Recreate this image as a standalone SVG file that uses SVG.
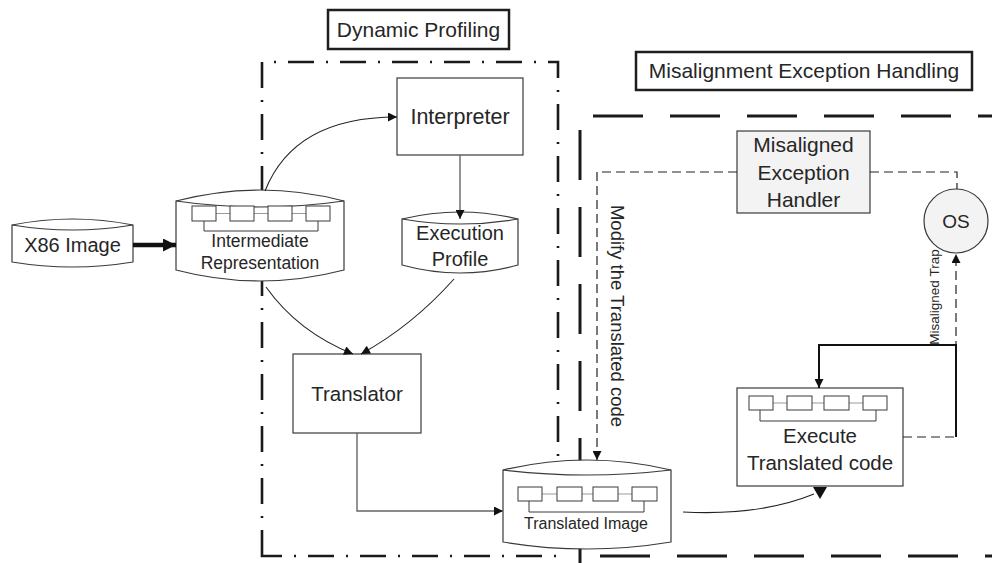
<svg xmlns="http://www.w3.org/2000/svg" width="992" height="563" viewBox="0 0 992 563">
  <style>
    text { font-family: "Liberation Sans", Arial, sans-serif; fill: #262626; }
    .mid { text-anchor: middle; }
    .node { fill: #ffffff; stroke: #3a3a3a; stroke-width: 1.2; }
    .grey { fill: #f3f3f3; stroke: #3a3a3a; stroke-width: 1.2; }
    .lens { fill: none; stroke: #3a3a3a; stroke-width: 1.2; }
    .cell { fill: #ffffff; stroke: #3a3a3a; stroke-width: 1; }
    .link { fill: none; stroke: #9a9a9a; stroke-width: 1; }
    .brk { fill: none; stroke: #3a3a3a; stroke-width: 1; }
    .conn { fill: none; stroke: #222; stroke-width: 1.1; }
    .grayconn { fill: none; stroke: #666; stroke-width: 1.4; }
    .dash { fill: none; stroke: #222; stroke-width: 1.2; stroke-dasharray: 9 5; }
    .thick { fill: none; stroke: #111; stroke-width: 2; }
    .heavy { fill: none; stroke: #111; stroke-width: 4.5; }
    .frame-dp { fill: none; stroke: #1a1a1a; stroke-width: 2.6; stroke-dasharray: 26 12 2 12; }
    .frame-mh { fill: none; stroke: #1a1a1a; stroke-width: 3; stroke-dasharray: 50 27; }
    .label { fill: #ffffff; stroke: #1e1e1e; stroke-width: 2.5; }
  </style>
  <defs>
    <marker id="ah" viewBox="0 0 10 10" refX="10" refY="5" markerWidth="10" markerHeight="9" markerUnits="userSpaceOnUse" orient="auto">
      <path d="M0,0 L10,5 L0,10 Z" fill="#111"/>
    </marker>
    <marker id="ahBig" viewBox="0 0 10 10" refX="10" refY="5" markerWidth="13" markerHeight="13" markerUnits="userSpaceOnUse" orient="auto">
      <path d="M0,0 L10,5 L0,10 Z" fill="#111"/>
    </marker>
  </defs>

  <rect width="992" height="563" fill="#ffffff"/>

  <!-- region frames -->
  <g id="frames">
    <path class="frame-dp" d="M262,556 V62 H558 V556 Z"/>
    <path class="frame-mh" d="M593,116 H992"/>
    <path class="frame-mh" d="M580,130 V563"/>
    <path class="frame-mh" d="M600,556 H992"/>
  </g>

  <!-- region titles -->
  <g id="title-dynamic-profiling">
    <rect class="label" x="328" y="10" width="181" height="39"/>
    <text class="mid" x="418.5" y="37" font-size="21">Dynamic Profiling</text>
  </g>
  <g id="title-misalignment">
    <rect class="label" x="636" y="52" width="336" height="38"/>
    <text class="mid" x="804" y="78" font-size="21">Misalignment Exception Handling</text>
  </g>

  <!-- X86 Image -->
  <g id="x86-image">
    <path class="node" d="M12,225 Q72.5,213 133,225 L133,262 Q72.5,272 12,262 Z"/>
    <path class="lens" d="M12,225 Q72.5,235 133,225"/>
    <text class="mid" x="72.5" y="252" font-size="20">X86 Image</text>
  </g>

  <!-- Intermediate Representation -->
  <g id="intermediate-representation">
    <path class="node" d="M176,201 Q260,179 344,201 L344,270 Q260,292 176,270 Z"/>
    <path class="lens" d="M176,201 Q260,213 344,201"/>
    <path class="link" d="M216,213.5 H230 M254,213.5 H268 M292,213.5 H306"/>
    <rect class="cell" x="192" y="206" width="24" height="15"/>
    <rect class="cell" x="230" y="206" width="24" height="15"/>
    <rect class="cell" x="268" y="206" width="24" height="15"/>
    <rect class="cell" x="306" y="206" width="24" height="15"/>
    <path class="brk" d="M204,221 V231 H318 V221"/>
    <text class="mid" x="260" y="247" font-size="17.5">Intermediate</text>
    <text class="mid" x="260" y="269" font-size="17.5">Representation</text>
  </g>

  <!-- Interpreter -->
  <g id="interpreter">
    <rect class="node" x="397" y="78" width="126" height="77"/>
    <text class="mid" x="460" y="124" font-size="21.5">Interpreter</text>
  </g>

  <!-- Execution Profile -->
  <g id="execution-profile">
    <path class="node" d="M402,219 Q460,205 518,219 L518,265 Q460,281 402,265 Z"/>
    <path class="lens" d="M402,219 Q460,229 518,219"/>
    <text class="mid" x="460" y="240" font-size="20">Execution</text>
    <text class="mid" x="460" y="266" font-size="20">Profile</text>
  </g>

  <!-- Translator -->
  <g id="translator">
    <rect class="node" x="293" y="354" width="128" height="79"/>
    <text class="mid" x="357" y="401" font-size="20.5">Translator</text>
  </g>

  <!-- Translated Image -->
  <g id="translated-image">
    <path class="node" d="M503,470 Q587,450 671,470 L671,542 Q587,556 503,542 Z"/>
    <path class="lens" d="M503,470 Q587,480 671,470"/>
    <path class="link" d="M542,494 H557 M582,494 H593 M618,494 H632"/>
    <rect class="cell" x="518" y="487" width="24" height="14"/>
    <rect class="cell" x="557" y="487" width="25" height="14"/>
    <rect class="cell" x="593" y="487" width="25" height="14"/>
    <rect class="cell" x="632" y="487" width="25" height="14"/>
    <path class="brk" d="M529,501 V512 H644 V501"/>
    <text class="mid" x="586" y="529" font-size="16">Translated Image</text>
  </g>

  <!-- Misaligned Exception Handler -->
  <g id="exception-handler">
    <rect class="grey" x="737" y="131" width="133" height="82"/>
    <text class="mid" x="803.5" y="152" font-size="21">Misaligned</text>
    <text class="mid" x="803.5" y="180" font-size="21">Exception</text>
    <text class="mid" x="803.5" y="207" font-size="21">Handler</text>
  </g>

  <!-- OS -->
  <g id="os">
    <circle class="grey" cx="956" cy="221" r="32"/>
    <text class="mid" x="956" y="228" font-size="19">OS</text>
  </g>

  <!-- Execute Translated code -->
  <g id="execute-translated-code">
    <rect class="node" x="737" y="388" width="166" height="98"/>
    <path class="link" d="M773,403 H787 M812,403 H824 M849,403 H863"/>
    <rect class="cell" x="749" y="396" width="24" height="14"/>
    <rect class="cell" x="787" y="396" width="25" height="14"/>
    <rect class="cell" x="824" y="396" width="25" height="14"/>
    <rect class="cell" x="863" y="396" width="24" height="14"/>
    <path class="brk" d="M760,410 V421 H876 V410"/>
    <text class="mid" x="820" y="443" font-size="20.5">Execute</text>
    <text class="mid" x="820" y="470" font-size="20.5">Translated code</text>
  </g>

  <!-- connectors, drawn above the nodes so arrowheads stay visible -->
  <g id="connectors">
    <path class="heavy" d="M133,245 H176" marker-end="url(#ahBig)"/>
    <path class="conn" d="M265,191 C282,148 320,117 397,117" marker-end="url(#ah)"/>
    <path class="grayconn" d="M460,155 V219" marker-end="url(#ah)"/>
    <path class="conn" d="M266,287 Q298,332 353,354" marker-end="url(#ah)"/>
    <path class="conn" d="M454,279 Q412,326 361,354" marker-end="url(#ah)"/>
    <path class="grayconn" d="M357,433 V511 H503" marker-end="url(#ah)"/>
    <path class="conn" d="M683,512 Q760,516 814,494"/>
    <polygon points="813,487 827,487 820,499" fill="#111"/>
    <path class="dash" d="M737,172 H597 V460" marker-end="url(#ah)"/>
    <path class="dash" d="M870,172 H957 V189"/>
    <path class="dash" d="M903,437 H956 V254" marker-end="url(#ah)"/>
    <path class="thick" d="M956,437 V345 H819 V388" marker-end="url(#ah)"/>
  </g>

  <!-- edge labels -->
  <g id="edge-labels">
    <text class="mid" transform="translate(611,316) rotate(90)" font-size="18.5">Modify the Translated code</text>
    <text class="mid" transform="translate(939,297) rotate(-90)" font-size="13.5">Misaligned Trap</text>
  </g>
</svg>
